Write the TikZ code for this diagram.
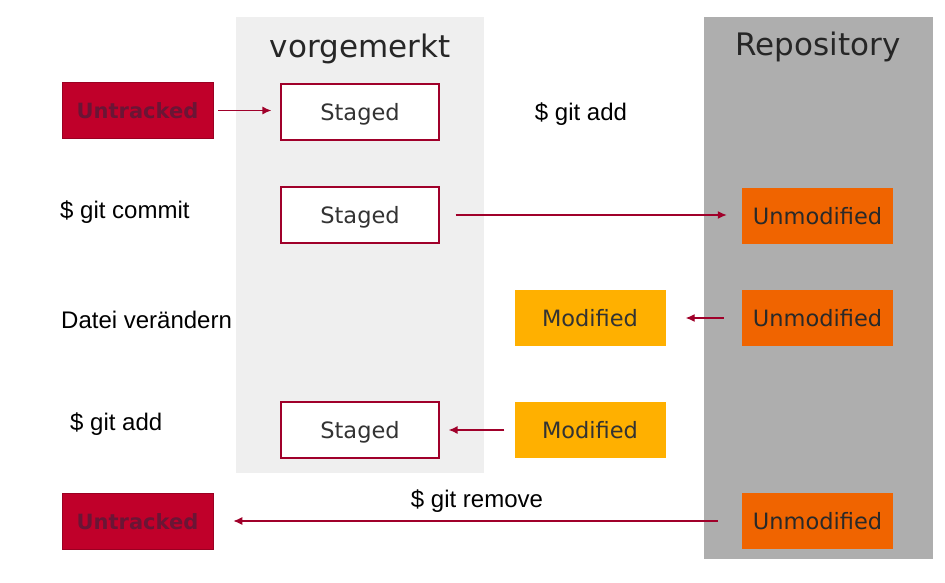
\documentclass[tikz,border=0pt]{standalone}
\usepackage{fontspec}
\setmainfont{Liberation Sans}
\newfontfamily\boxfont{DejaVu Sans}
\usetikzlibrary{arrows.meta}
\definecolor{panelA}{HTML}{EFEFEF}
\definecolor{panelB}{HTML}{AEAEAE}
\definecolor{untr}{HTML}{C0002A}
\definecolor{untrtxt}{HTML}{6A1535}
\definecolor{unmod}{HTML}{F06400}
\definecolor{modif}{HTML}{FFB000}
\definecolor{arr}{HTML}{A0002A}
\definecolor{boxtxt}{HTML}{333333}
\begin{document}
\begin{tikzpicture}[x=1pt,y=-1pt,
  state/.style={minimum width=151pt,minimum height=56pt,inner sep=0pt,
    font=\boxfont\fontsize{22.5}{26}\selectfont,text=boxtxt,text depth=0pt,text height=17pt},
  untrackedbox/.style={state,fill=untr,draw=untr!80!black,line width=0.6pt,text=untrtxt,
    font=\boxfont\bfseries\fontsize{21}{24}\selectfont},
  stagedbox/.style={state,minimum width=158pt,fill=white,draw=arr,line width=1.2pt},
  unmodbox/.style={state,fill=unmod,text=boxtxt!80!black},
  modbox/.style={state,fill=modif},
  cmd/.style={font=\fontsize{24}{28}\selectfont,inner sep=0pt},
  flow/.style={draw=arr,line width=1.3pt,-{Latex[length=9pt,width=8pt]}},
  title/.style={font=\boxfont\fontsize{31}{36}\selectfont,text=black!85,inner sep=0pt}]
\useasboundingbox (0,0) rectangle (945,583);
\fill[white] (0,0) rectangle (945,583);
\fill[panelA] (236,17) rectangle (484,473);
\fill[panelB] (704,17) rectangle (933,559);
\node[title] (t1) at (360,49) {vorgemerkt};
\node[title] (t2) at (818,47) {Repository};

\node[untrackedbox] (u1) at (137.5,110.5) {Untracked};
\node[stagedbox] (s1) at (360,112) {Staged};
\node[cmd] (c1) at (581,114) {\$ git add};

\node[cmd,anchor=west] (c2) at (60,212) {\$ git commit};
\node[stagedbox] (s2) at (360,215) {Staged};
\node[unmodbox] (m1) at (817.5,215.5) {Unmodified};

\node[cmd,anchor=west] (c3) at (61,320) {Datei verändern};
\node[modbox] (d1) at (590,318) {Modified};
\node[unmodbox] (m2) at (817.5,318) {Unmodified};

\node[cmd,anchor=west] (c4) at (70,424) {\$ git add};
\node[stagedbox] (s3) at (360,430) {Staged};
\node[modbox] (d2) at (590,430) {Modified};

\node[untrackedbox] (u2) at (137.5,521) {Untracked};
\node[cmd] (c5) at (477,501) {\$ git remove};
\node[unmodbox] (m3) at (817.5,521) {Unmodified};

\draw[flow,shorten <=5pt,shorten >=9pt] (u1.east) -- (s1.west |- u1.east);
\draw[flow,shorten <=16pt,shorten >=15pt] (s2.east) -- (m1.west |- s2.east);
\draw[flow,shorten <=18pt,shorten >=20pt] (m2.west) -- (d1.east |- m2.west);
\draw[flow,shorten <=10pt,shorten >=9pt] (d2.west) -- (s3.east |- d2.west);
\draw[flow,shorten <=24pt,shorten >=20pt] (m3.west) -- (u2.east |- m3.west);
\end{tikzpicture}
\end{document}
